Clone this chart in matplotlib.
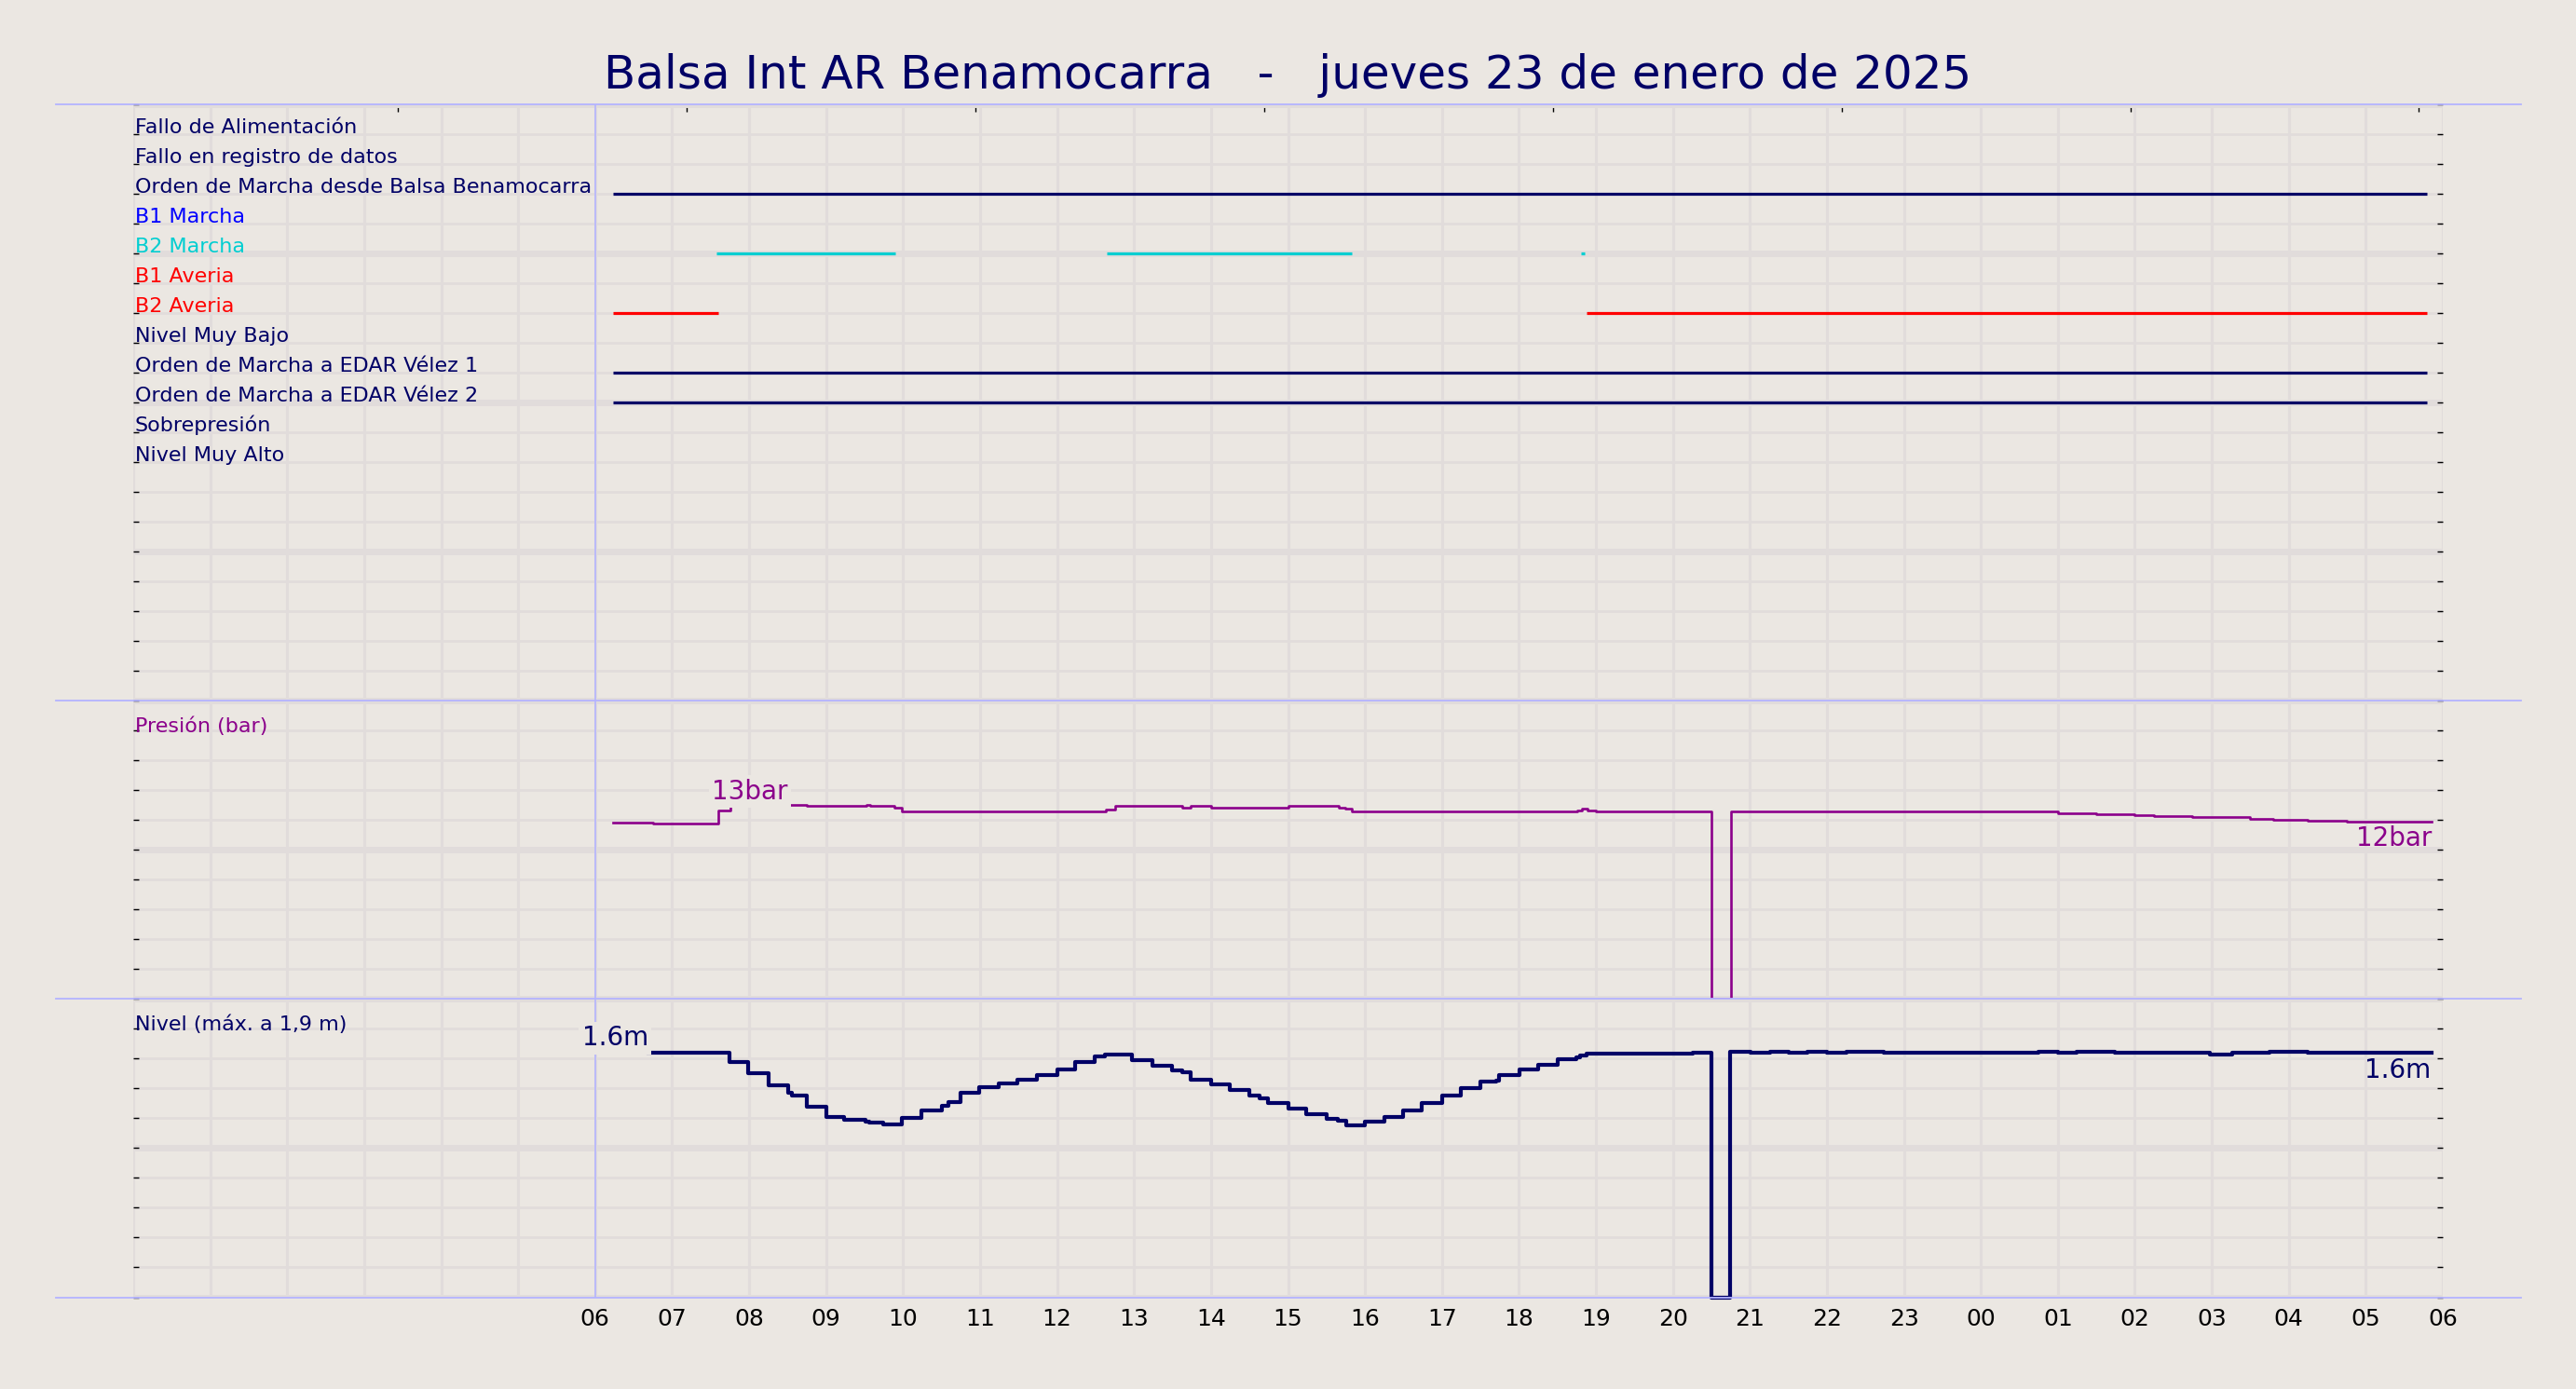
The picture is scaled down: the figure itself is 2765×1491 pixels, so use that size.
import matplotlib
matplotlib.use("Agg")
import matplotlib.pyplot as plt
from matplotlib.ticker import MultipleLocator, FixedLocator, FixedFormatter
from matplotlib.lines import Line2D

# ---------------- data ----------------
title = "Balsa Int AR Benamocarra   -   jueves 23 de enero de 2025"

signal_labels = [
    "Fallo de Alimentación",
    "Fallo en registro de datos",
    "Orden de Marcha desde Balsa Benamocarra",
    "B1 Marcha",
    "B2 Marcha",
    "B1 Averia",
    "B2 Averia",
    "Nivel Muy Bajo",
    "Orden de Marcha a EDAR Vélez 1",
    "Orden de Marcha a EDAR Vélez 2",
    "Sobrepresión",
    "Nivel Muy Alto",
]
signal_colors = ["#000066", "#000066", "#000066", "#0000ff", "#00ced1", "#ff0000",
                 "#ff0000", "#000066", "#000066", "#000066", "#000066", "#000066"]

# active intervals (hours since 00:00 of 23 Jan)
fallo_alim_on = []
fallo_reg_on = []
orden_balsa_on = [(6.23, 29.80)]
b1_marcha_on = []
b2_marcha_on = [(7.58, 9.90), (12.65, 15.83), (18.80, 18.86)]
b1_averia_on = []
b2_averia_on = [(6.23, 7.60), (18.88, 29.80)]
nivel_bajo_on = []
edar1_on = [(6.23, 29.80)]
edar2_on = [(6.23, 29.80)]
sobrepresion_on = []
nivel_alto_on = []

# pressure (bar), step series
pres_t = [6.23, 6.756, 7.595, 7.763, 8.50, 8.75, 9.52, 9.57, 9.89, 9.98, 11.75, 12.63,
          12.75, 13.63, 13.74, 14.0, 15.0, 15.66, 15.75, 15.83, 16.25, 18.76, 18.82,
          18.89, 19.0, 20.5, 20.75, 22.0, 22.24, 23.0, 23.5, 23.78, 24.23, 24.49, 25.0,
          25.5, 25.75, 25.8, 26.0, 26.25, 26.75, 27.5, 27.8, 28.25, 28.75, 29.25, 29.86]
pres_v = [11.85, 11.79, 12.63, 12.93, 12.99, 12.93, 12.99, 12.93, 12.80, 12.61, 12.55, 12.72,
          12.95, 12.86, 12.95, 12.86, 12.93, 12.86, 12.78, 12.61, 12.55, 12.63, 12.76,
          12.67, 12.61, 0.0, 12.61, 12.55, 12.61, 12.55, 12.61, 12.55, 12.61, 12.55, 12.48,
          12.38, 12.42, 12.38, 12.32, 12.25, 12.19, 12.10, 12.04, 11.98, 11.92, 11.87, 11.87]

# level (m), step series
lvl_t = [6.69, 7.747, 7.991, 8.256, 8.51, 8.55, 8.749, 9.003, 9.237, 9.506, 9.562, 9.745,
         9.984, 10.238, 10.503, 10.584, 10.747, 10.991, 11.245, 11.484, 11.738, 12.003,
         12.236, 12.491, 12.628, 12.974, 13.238, 13.492, 13.629, 13.736, 14.0, 14.247,
         14.494, 14.628, 14.741, 15.003, 15.236, 15.498, 15.646, 15.755, 16.002, 16.249,
         16.496, 16.734, 17.0, 17.248, 17.495, 17.707, 17.747, 18.004, 18.251, 18.498,
         18.745, 18.795, 18.879, 20.253, 20.5, 20.747, 21.01, 21.26, 21.5, 21.75, 22.0,
         22.25, 22.74, 24.75, 25.0, 25.24, 25.74, 26.77, 26.97, 27.26, 27.75, 28.24, 29.85]
lvl_v = [1.64, 1.577, 1.50, 1.42, 1.37, 1.35, 1.275, 1.21, 1.19, 1.175, 1.17, 1.156,
         1.20, 1.254, 1.285, 1.31, 1.37, 1.406, 1.435, 1.458, 1.49, 1.527,
         1.577, 1.615, 1.625, 1.587, 1.55, 1.52, 1.506, 1.46, 1.427, 1.39,
         1.35, 1.335, 1.30, 1.265, 1.23, 1.196, 1.185, 1.152, 1.177, 1.206,
         1.254, 1.30, 1.35, 1.40, 1.444, 1.454, 1.49, 1.525, 1.558, 1.594,
         1.608, 1.62, 1.631, 1.64, 0.0, 1.645, 1.638, 1.648, 1.638, 1.648, 1.637,
         1.648, 1.637, 1.644, 1.637, 1.646, 1.637, 1.641, 1.630, 1.637, 1.648, 1.637, 1.637]

hour_labels = ["06", "07", "08", "09", "10", "11", "12", "13", "14", "15", "16", "17",
               "18", "19", "20", "21", "22", "23", "00", "01", "02", "03", "04", "05", "06"]
top_tick_hours = [3.44, 7.19, 10.94, 14.69, 18.44, 22.19, 25.94, 29.69]

# ---------------- style ----------------
BG = "#ebe7e2"
GRID = "#e1dcdb"
NAVY = "#000066"
PURPLE = "#8b008b"
BLUE_LINE = "#b4b4ff"

fig = plt.figure(figsize=(27.65, 14.91), dpi=100, facecolor=BG)

L, R = 143 / 2765, 2622 / 2765
TOP, BOT = 1 - 112 / 1491, 1 - 1392.5 / 1491
H = TOP - BOT
h0 = H * 20 / 40
h1 = H * 10 / 40
ax0 = fig.add_axes([L, TOP - h0, R - L, h0])
ax1 = fig.add_axes([L, TOP - h0 - h1, R - L, h1])
ax2 = fig.add_axes([L, BOT, R - L, h1])

signal_on = [fallo_alim_on, fallo_reg_on, orden_balsa_on, b1_marcha_on, b2_marcha_on,
             b1_averia_on, b2_averia_on, nivel_bajo_on, edar1_on, edar2_on,
             sobrepresion_on, nivel_alto_on]

for ax in (ax0, ax1, ax2):
    ax.set_facecolor(BG)
    for s in ax.spines.values():
        s.set_visible(False)
    ax.set_xlim(0, 30)
    ax.xaxis.set_major_locator(FixedLocator(list(range(0, 31))))
    ax.grid(True, which="major", axis="x", color=GRID, lw=2.2, zorder=0)
    ax.grid(True, which="minor", axis="y", color=GRID, lw=2.0, zorder=0)
    ax.grid(True, which="major", axis="y", color=GRID, lw=5.0, zorder=0)
    ax.tick_params(axis="x", which="both", length=0, labelbottom=False)
    ax.tick_params(axis="y", which="both", direction="in", length=4, width=1.0,
                   color="black", left=True, right=True, labelleft=False, labelright=False)
    ax.axvline(6, color=BLUE_LINE, lw=1.2, zorder=2)
    ax.set_axisbelow(True)

# top panel: signals
ax0.set_ylim(20, 0)
ax0.yaxis.set_major_locator(MultipleLocator(5))
ax0.yaxis.set_minor_locator(MultipleLocator(1))
for i, (lab, col, on) in enumerate(zip(signal_labels, signal_colors, signal_on), start=1):
    ax0.text(0.02, i - 0.04, lab, color=col, fontsize=16, ha="left", va="baseline", zorder=5)
    for a, b in on:
        ax0.hlines(i, a, b, color=col, lw=2.3, zorder=3)
sec = ax0.secondary_xaxis("top")
sec.set_xticks(top_tick_hours)
sec.tick_params(direction="in", length=6, width=1.0, color="black", labeltop=False)
for s in sec.spines.values():
    s.set_visible(False)

# pressure panel
ax1.set_ylim(0, 20)
ax1.yaxis.set_major_locator(MultipleLocator(10))
ax1.yaxis.set_minor_locator(MultipleLocator(2))
ax1.step(pres_t, pres_v, where="post", color=PURPLE, lw=1.9, zorder=3, clip_on=False)
ax1.text(0.02, 18 - 0.08, "Presión (bar)", color=PURPLE, fontsize=16, ha="left", va="baseline", zorder=5)
imax = max(range(len(pres_v)), key=lambda k: pres_v[k])
box = dict(boxstyle="square,pad=0.12", fc=BG, ec="none")
ax1.text(pres_t[imax], pres_v[imax] + 0.05, f"{round(pres_v[imax])}bar", color=PURPLE,
         fontsize=20, ha="right", va="bottom", bbox=box, zorder=6)
ax1.text(pres_t[-1], pres_v[-1] - 0.25, f"{round(pres_v[-1])}bar", color=PURPLE,
         fontsize=20, ha="right", va="top", zorder=6)

# level panel
ax2.set_ylim(0, 2)
ax2.yaxis.set_major_locator(MultipleLocator(1))
ax2.yaxis.set_minor_locator(MultipleLocator(0.2))
ax2.step(lvl_t, lvl_v, where="post", color=NAVY, lw=3.0, zorder=3, clip_on=False)
ax2.text(0.02, 1.8 - 0.008, "Nivel (máx. a 1,9 m)", color=NAVY, fontsize=16, ha="left", va="baseline", zorder=5)
ax2.text(lvl_t[0], lvl_v[0] + 0.01, f"{lvl_v[0]:.1f}m", color=NAVY,
         fontsize=20, ha="right", va="bottom", bbox=box, zorder=6)
ax2.text(lvl_t[-1], lvl_v[-1] - 0.03, f"{lvl_v[-1]:.1f}m", color=NAVY,
         fontsize=20, ha="right", va="top", zorder=6)
ax2.xaxis.set_major_formatter(FixedFormatter([""] * 6 + hour_labels))
ax2.tick_params(axis="x", which="major", labelbottom=True, labelsize=18, pad=8,
                labelcolor="black")

# blue separators across the figure
for y in (TOP, TOP - h0, TOP - h0 - h1, BOT):
    fig.add_artist(Line2D([60 / 2765, 2706 / 2765], [y, y], transform=fig.transFigure,
                          color=BLUE_LINE, lw=1.3, zorder=1))

fig.text(0.5, 1 - 81 / 1491, title, ha="center", va="center", fontsize=36, color=NAVY)

fig.savefig("out.png", dpi=100, facecolor=BG)
